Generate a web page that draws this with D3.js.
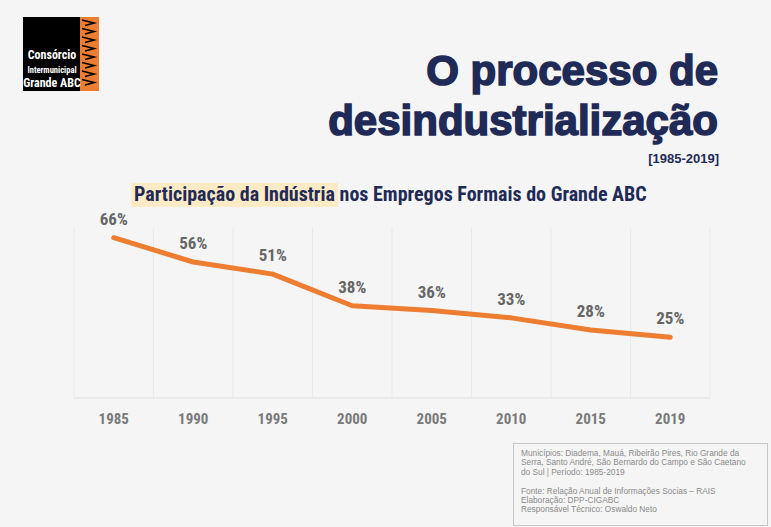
<!DOCTYPE html>
<html>
<head>
<meta charset="utf-8">
<script src="https://cdn.jsdelivr.net/npm/d3@7"></script>
<style>
  html, body { margin: 0; padding: 0; background: #f5f5f5; }
  svg { display: block; }
</style>
</head>
<body>
<svg id="chart"></svg>
<script>
// data
var years = ["1985", "1990", "1995", "2000", "2005", "2010", "2015", "2019"];
var shares = [66, 56, 51, 38, 36, 33, 28, 25];
var footLines = [
    "Municípios: Diadema, Mauá, Ribeirão Pires, Rio Grande da",
    "Serra, Santo André, São Bernardo do Campo e São Caetano",
    "do Sul | Período: 1985-2019",
    "",
    "Fonte: Relação Anual de Informações Socias – RAIS",
    "Elaboração: DPP-CIGABC",
    "Responsável Técnico: Oswaldo Neto"
];

var W = 771, H = 527;
var navy = "#1f2a56";
var orange = "#ed7d31";
var narrow = "'Liberation Sans Narrow', 'Arial Narrow', 'Roboto Condensed', Arial, sans-serif";

var svg = d3.select("#chart").attr("width", W).attr("height", H);
svg.append("rect").attr("width", W).attr("height", H).attr("fill", "#f5f5f5");

// logo
var logo = svg.append("g").attr("transform", "translate(23,17)");
logo.append("rect").attr("width", 58).attr("height", 74).attr("fill", "#000");
logo.append("rect").attr("x", 57).attr("width", 19).attr("height", 74).attr("fill", orange);
var zig = d3.range(8).map(function (i) { return i * 8.5 + 6; });
logo.selectAll("path.zig").data(zig).enter().append("path")
    .attr("class", "zig")
    .attr("d", function (d) { return "M59," + (d - 3) + " L71," + d + " L62," + (d + 2.5); })
    .attr("fill", "none").attr("stroke", "#000").attr("stroke-width", 1.6);
logo.append("text").attr("x", 29).attr("y", 42).attr("text-anchor", "middle")
    .attr("fill", "#fff").style("font", "bold 12px " + narrow).text("Consórcio");
logo.append("text").attr("x", 29).attr("y", 56).attr("text-anchor", "middle")
    .attr("fill", "#fff").style("font", "bold 8.5px " + narrow).text("Intermunicipal");
logo.append("text").attr("x", 29).attr("y", 70).attr("text-anchor", "middle")
    .attr("fill", "#fff").style("font", "bold 12px " + narrow).text("Grande ABC");

// title
var titleFont = "bold 42px 'Liberation Sans', Arial, sans-serif";
svg.append("text").attr("x", 718).attr("y", 85).attr("text-anchor", "end")
    .attr("fill", navy).attr("stroke", navy).attr("stroke-width", 1.6)
    .style("font", titleFont).text("O processo de");
svg.append("text").attr("x", 718).attr("y", 135).attr("text-anchor", "end")
    .attr("fill", navy).attr("stroke", navy).attr("stroke-width", 1.6)
    .style("font", titleFont).text("desindustrialização");
svg.append("text").attr("x", 719).attr("y", 163).attr("text-anchor", "end")
    .attr("fill", navy).style("font", "bold 13px 'Liberation Sans', Arial, sans-serif")
    .text("[1985-2019]");

// subtitle with highlight
var hlRect = svg.append("rect").attr("x", 131).attr("y", 183).attr("height", 24)
    .attr("fill", "#fdebc6");
var sub = svg.append("text").attr("x", 134).attr("y", 201)
    .attr("fill", navy).style("font", "bold 20px " + narrow);
var hl = sub.append("tspan").text("Participação da Indústria");
sub.append("tspan").text(" nos Empregos Formais do Grande ABC");
hlRect.attr("width", hl.node().getComputedTextLength() + 6);

// plot
var plot = {left: 74, right: 710, top: 228, bottom: 398};
var x = d3.scaleBand().domain(years).range([plot.left, plot.right]).padding(0);
var y = d3.scaleLinear().domain([0, 70]).range([plot.bottom, plot.top]);

var g = svg.append("g");
// vertical gridlines at band edges
var edges = years.map(function (d) { return x(d); }).concat([plot.right]);
g.selectAll("line.grid").data(edges).enter().append("line")
    .attr("class", "grid")
    .attr("x1", function (d) { return d; }).attr("x2", function (d) { return d; })
    .attr("y1", plot.top).attr("y2", plot.bottom)
    .attr("stroke", "#e9e9e9").attr("stroke-width", 1);
g.append("line").attr("x1", plot.left).attr("x2", plot.right)
    .attr("y1", plot.bottom).attr("y2", plot.bottom)
    .attr("stroke", "#e2e2e2").attr("stroke-width", 1);

// x axis
var xAxis = d3.axisBottom(x).tickSize(0).tickPadding(0);
var xg = svg.append("g").attr("transform", "translate(0," + plot.bottom + ")").call(xAxis);
xg.select(".domain").remove();
xg.selectAll("text").attr("dy", 0).attr("y", 26)
    .attr("fill", "#7a7a7a").style("font", "bold 15px " + narrow);

// line
var line = d3.line()
    .x(function (d, i) { return x(years[i]) + x.bandwidth() / 2; })
    .y(function (d) { return y(d); });
svg.append("path").datum(shares)
    .attr("d", line).attr("fill", "none")
    .attr("stroke", orange).attr("stroke-width", 5)
    .attr("stroke-linecap", "round").attr("stroke-linejoin", "round");

// labels
svg.selectAll("text.val").data(shares).enter().append("text")
    .attr("class", "val")
    .attr("x", function (d, i) { return x(years[i]) + x.bandwidth() / 2; })
    .attr("y", function (d) { return y(d) - 13; })
    .attr("text-anchor", "middle")
    .attr("fill", "#666").style("font", "bold 17px " + narrow)
    .text(function (d) { return d + "%"; });

// footnote box
svg.append("rect").attr("x", 513.5).attr("y", 443.5).attr("width", 254).attr("height", 82)
    .attr("fill", "#f5f5f5").attr("stroke", "#c8c8c8").attr("stroke-width", 1);
svg.selectAll("text.foot").data(footLines).enter().append("text")
    .attr("class", "foot")
    .attr("x", 521).attr("y", function (d, i) { return 456 + i * 9.4; })
    .attr("fill", "#8a8a8a").style("font", "8.3px 'Liberation Sans', Arial, sans-serif")
    .text(function (d) { return d; });
</script>
</body>
</html>
